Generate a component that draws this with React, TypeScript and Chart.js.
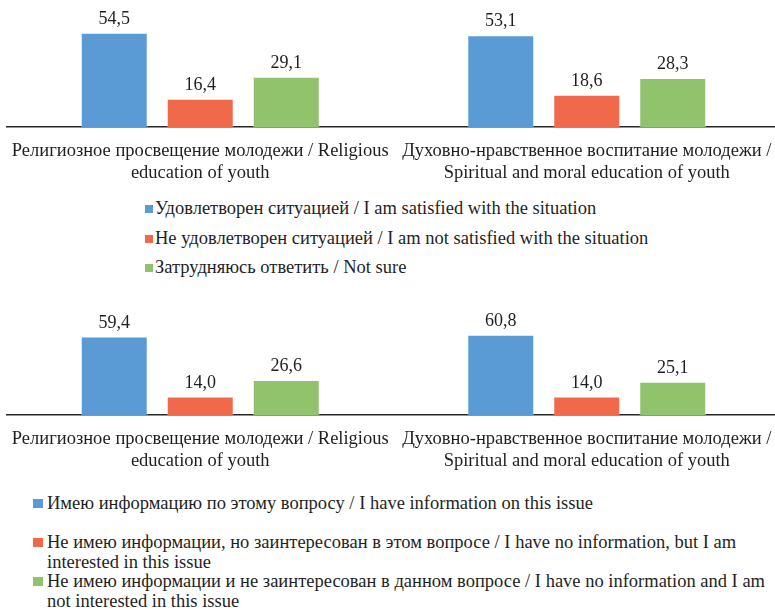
import React, { useEffect, useRef } from 'react';
import { Chart, registerables } from 'chart.js';

Chart.register(...registerables);

const categories: string[][] = [
  ['Религиозное просвещение молодежи / Religious', 'education of youth'],
  ['Духовно-нравственное воспитание молодежи /', 'Spiritual and moral education of youth'],
];

const seriesLabels1 = [
  'Удовлетворен ситуацией / I am satisfied with the situation',
  'Не удовлетворен ситуацией / I am not satisfied with the situation',
  'Затрудняюсь ответить / Not sure',
];
const satisfied = [54.5, 53.1];
const notSatisfied = [16.4, 18.6];
const notSure = [29.1, 28.3];

const seriesLabels2 = [
  'Имею информацию по этому вопросу / I have information on this issue',
  'Не имею информации, но заинтересован в этом вопросе / I have no information, but I am interested in this issue',
  'Не имею информации и не заинтересован в данном вопросе / I have no information and I am not interested in this issue',
];
const haveInfo = [59.4, 60.8];
const noInfoInterested = [14.0, 14.0];
const noInfoNotInterested = [26.6, 25.1];

const colors = ['#5B9BD5', '#F0694B', '#91C36C'];
const FONT = '"Liberation Serif", "Times New Roman", "DejaVu Serif", serif';
const TEXT = '#1f1f1f';

const valueLabels = {
  id: 'valueLabels',
  afterDatasetsDraw(chart: any) {
    const { ctx } = chart;
    ctx.save();
    ctx.font = `18px ${FONT}`;
    ctx.fillStyle = TEXT;
    ctx.textAlign = 'center';
    ctx.textBaseline = 'alphabetic';
    chart.data.datasets.forEach((ds: any, i: number) => {
      const meta = chart.getDatasetMeta(i);
      meta.data.forEach((el: any, j: number) => {
        const v = ds.data[j] as number;
        ctx.fillText(v.toFixed(1).replace('.', ','), el.x, el.y - 9);
      });
    });
    ctx.restore();
  },
};

function BarChart(props: {
  series: number[][];
  labels: string[];
  yMax: number;
  xHeight: number;
  height: number;
  top: number;
}) {
  const ref = useRef<HTMLCanvasElement | null>(null);
  useEffect(() => {
    if (!ref.current) return;
    const chart = new Chart(ref.current, {
      type: 'bar',
      data: {
        labels: categories as any,
        datasets: props.series.map((d, i) => ({
          label: props.labels[i],
          data: d,
          backgroundColor: colors[i],
          borderColor: 'rgba(255,255,255,0.35)',
          borderWidth: 1,
          categoryPercentage: 0.6675,
          barPercentage: 0.779,
        })),
      },
      options: {
        responsive: false,
        animation: false,
        devicePixelRatio: 1,
        layout: { padding: { left: 7, right: 0, top: 0, bottom: 0 } },
        plugins: { legend: { display: false }, tooltip: { enabled: false } },
        scales: {
          x: {
            grid: { display: false, drawTicks: false },
            border: { display: true, color: '#262626', width: 1.5 },
            ticks: {
              color: TEXT,
              font: { family: FONT, size: 18.5, lineHeight: 1.16 },
              padding: 13.5,
              maxRotation: 0,
              minRotation: 0,
              autoSkip: false,
            },
            afterFit: (s: any) => {
              s.height = props.xHeight;
              s.paddingLeft = 0;
              s.paddingRight = 0;
            },
          },
          y: { display: false, min: 0, max: props.yMax },
        },
      },
      plugins: [valueLabels],
    });
    return () => chart.destroy();
  }, []);
  return (
    <canvas
      ref={ref}
      width={780}
      height={props.height}
      style={{ position: 'absolute', left: 0, top: props.top, width: 780, height: props.height }}
    />
  );
}

function Legend(props: { labels: string[]; left: number; top: number; mode: 1 | 2 }) {
  const { labels, left, top, mode } = props;
  return (
    <div
      style={{
        position: 'absolute',
        left,
        top,
        width: 775 - left,
        fontFamily: FONT,
        fontSize: 18.5,
        color: TEXT,
      }}
    >
      {labels.map((l, i) => (
        <div
          key={i}
          style={{
            display: 'flex',
            alignItems: 'flex-start',
            lineHeight: mode === 1 ? '29.5px' : '19.5px',
            marginBottom: mode === 2 && i === 0 ? 19.5 : 0,
          }}
        >
          <span
            style={{
              display: 'inline-block',
              flex: 'none',
              width: mode === 1 ? 8 : 10,
              height: mode === 1 ? 8 : 9,
              background: colors[i],
              marginTop: mode === 1 ? 11 : 5,
              marginRight: mode === 1 ? 2 : 4,
            }}
          />
          <span>{l}</span>
        </div>
      ))}
    </div>
  );
}

export default function App() {
  return (
    <div
      style={{
        position: 'absolute',
        left: 0,
        top: 0,
        width: 775,
        height: 610,
        overflow: 'hidden',
        background: '#fff',
      }}
    >
      <BarChart
        series={[satisfied, notSatisfied, notSure]}
        labels={seriesLabels1}
        yMax={127 / 1.73}
        xHeight={58}
        height={185}
        top={0}
      />
      <Legend labels={seriesLabels1} left={145} top={194} mode={1} />
      <BarChart
        series={[haveInfo, noInfoInterested, noInfoNotInterested]}
        labels={seriesLabels2}
        yMax={120 / 1.32}
        xHeight={65}
        height={185}
        top={295}
      />
      <Legend labels={seriesLabels2} left={33} top={494} mode={2} />
    </div>
  );
}
